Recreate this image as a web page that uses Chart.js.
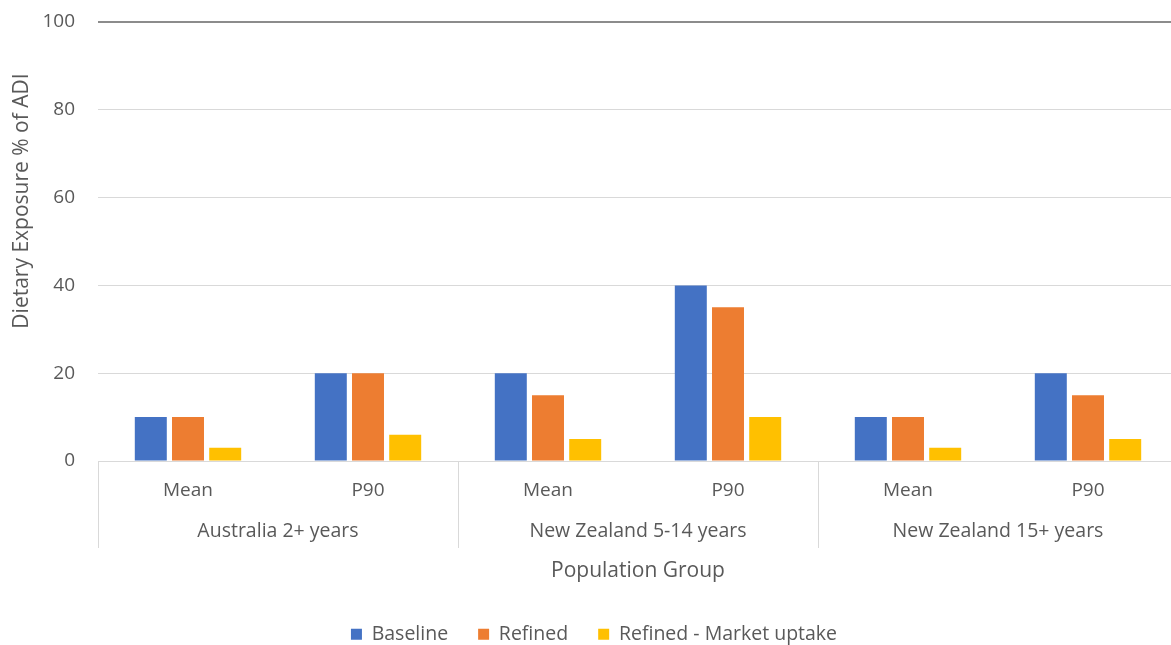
<!DOCTYPE html>
<html>
<head>
<meta charset="utf-8">
<script src="https://cdn.jsdelivr.net/npm/chart.js@4"></script>
<style>
  html, body { margin: 0; padding: 0; background: #ffffff; overflow: hidden; }
  #wrap { width: 1171px; height: 645px; overflow: hidden; position: relative; }
  #box { width: 1180px; height: 654px; position: absolute; left: 0; top: 0; }
</style>
</head>
<body>
<div id="wrap"><div id="box"><canvas id="chart"></canvas></div></div>
<script>
// Exposure estimates by population group and statistic
const categories = ['Mean', 'P90', 'Mean', 'P90', 'Mean', 'P90'];
const groups = ['Australia 2+ years', 'New Zealand 5-14 years', 'New Zealand 15+ years'];
const seriesNames = ['Baseline', 'Refined', 'Refined - Market uptake'];
const baseline = [10, 20, 20, 40, 10, 20];
const refined = [10, 20, 15, 35, 10, 15];
const marketUptake = [3, 6, 5, 10, 3, 5];
const yTicks = [0, 20, 40, 60, 80, 100];
const yTitle = 'Dietary Exposure % of ADI';

const textColor = '#595959';
const gridColor = '#d9d9d9';
const fontFamily = '"Open Sans", "Noto Sans", sans-serif';

// Group dividers below the axis line, plus the rotated value-axis title
const axisDecor = {
  id: 'axisDecor',
  afterLayout(chart) {
    // nudge the legend row slightly to the right
    chart.legend.left += 5;
    chart.legend.right += 5;
  },
  afterDraw(chart) {
    const x2 = chart.scales.x2;
    const area = chart.chartArea;
    const ctx = chart.ctx;
    const step = x2.width / groups.length;
    ctx.save();
    ctx.strokeStyle = gridColor;
    ctx.lineWidth = 1;
    for (let i = 0; i <= groups.length; i++) {
      const x = Math.round(x2.left + i * step) + 0.5;
      ctx.beginPath();
      ctx.moveTo(x, area.bottom);
      ctx.lineTo(x, 548);
      ctx.stroke();
    }
    ctx.translate(22, 201);
    ctx.rotate(-Math.PI / 2);
    ctx.fillStyle = textColor;
    ctx.font = '21px ' + fontFamily;
    ctx.textAlign = 'center';
    ctx.textBaseline = 'middle';
    ctx.fillText(yTitle, 0, 0);
    ctx.restore();
  }
};

new Chart(document.getElementById('chart'), {
  type: 'bar',
  data: {
    labels: categories,
    datasets: [
      { label: seriesNames[0], data: baseline, backgroundColor: '#4472c4' },
      { label: seriesNames[1], data: refined, backgroundColor: '#ed7d31' },
      { label: seriesNames[2], data: marketUptake, backgroundColor: '#ffc000' }
    ]
  },
  options: {
    responsive: true,
    maintainAspectRatio: false,
    animation: false,
    categoryPercentage: 0.62,
    barPercentage: 0.86,
    layout: { padding: { top: 22, right: 2, left: 0, bottom: 0 } },
    plugins: {
      legend: {
        position: 'bottom',
        labels: {
          boxWidth: 11,
          boxHeight: 11,
          padding: 30,
          color: textColor,
          font: { family: fontFamily, size: 19.5 }
        }
      },
      tooltip: { enabled: false }
    },
    scales: {
      y: {
        min: 0,
        max: 100,
        afterBuildTicks: s => { s.ticks = yTicks.map(v => ({ value: v })); },
        afterFit: s => { s.width = 98; s.paddingTop = 0; s.paddingBottom = 0; },
        border: { display: false },
        grid: {
          drawTicks: false,
          color: c => (c.tick && c.tick.value === 100 ? '#8c8c8c' : gridColor),
          lineWidth: c => (c.tick && c.tick.value === 100 ? 2 : 1)
        },
        ticks: { padding: 23, color: textColor, font: { family: fontFamily, size: 19 } }
      },
      x: {
        position: 'bottom',
        afterFit: s => { s.height = 50; },
        grid: { display: false },
        border: { color: gridColor },
        ticks: { padding: 10, color: textColor, font: { family: fontFamily, size: 19 } }
      },
      x2: {
        type: 'category',
        labels: groups,
        position: 'bottom',
        offset: true,
        afterFit: s => { s.height = 83.5; },
        grid: { display: false, drawTicks: false },
        border: { display: false },
        ticks: { padding: 9, color: textColor, font: { family: fontFamily, size: 19.5 } },
        title: {
          display: true,
          text: 'Population Group',
          color: textColor,
          font: { family: fontFamily, size: 21 },
          padding: { top: 0, bottom: 11 }
        }
      }
    }
  },
  plugins: [axisDecor]
});
</script>
</body>
</html>
